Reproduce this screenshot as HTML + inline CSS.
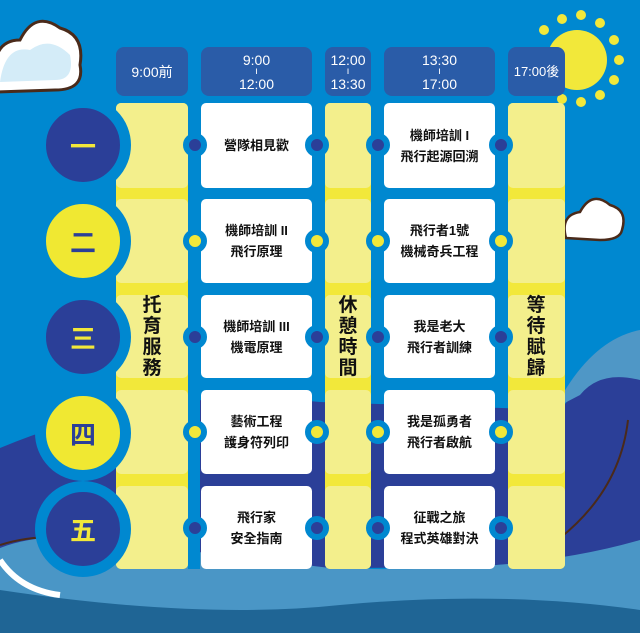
<!DOCTYPE html>
<html><head><meta charset="utf-8"><style>
body{margin:0;width:640px;height:633px;overflow:hidden;background:#0088d0;position:relative;font-family:"Liberation Sans","Noto Sans CJK TC",sans-serif}
.a{position:absolute}
.hd{position:absolute;top:47px;height:49px;background:#2a5ca8;border-radius:8px;color:#fff;font-size:14px;line-height:14px;text-align:center;display:flex;align-items:center;justify-content:center}
.hd small{font-size:10px;line-height:10px;display:block}
.y{position:absolute;background:#f3ef8c;border-radius:5px}
.w{position:absolute;background:#fff;border-radius:5px;font-size:13px;font-weight:bold;line-height:21px;text-align:center;display:flex;align-items:center;justify-content:center;color:#111}
.day{position:absolute;width:74px;height:74px;border-radius:50%;border:11px solid #0088d0;left:35px;font-size:26px;font-weight:bold;display:flex;align-items:center;justify-content:center}
.dot{position:absolute;width:12px;height:12px;border-radius:50%;border:6px solid #0088d0}
.vt{position:absolute;font-size:19px;font-weight:bold;line-height:21px;width:24px;text-align:center;color:#111}
</style></head><body>
<svg class="a" style="left:0;top:0" width="640" height="633">
<path d="M0,448 Q150,385 320,402 L560,410 Q600,360 640,372 L640,545 Q600,568 330,568 L40,560 Q20,550 0,548Z" fill="#2b3f98"/>
<path d="M555,408 Q590,340 640,330 L640,380 Q600,370 580,395 Z" fill="#4f97c6"/>
<path d="M0,548 Q40,532 100,540 L330,568 Q520,575 640,540 L640,633 L0,633Z" fill="#4a96c6"/>
<path d="M0,590 Q200,620 340,605 Q500,590 640,610 L640,633 L0,633Z" fill="#1f6595"/>
<path d="M0,545 Q40,532 90,540" stroke="#4a2a1a" stroke-width="2" fill="none"/>
<path d="M0,560 Q20,590 60,595" stroke="#fff" stroke-width="6" fill="none"/>
<path d="M560,538 Q620,490 628,420" stroke="#4a2a1a" stroke-width="2" fill="none"/>
<circle cx="577" cy="60" r="30" fill="#f2e83a"/>
<g fill="#f2e83a"><circle cx="562" cy="19" r="5"/><circle cx="581" cy="15" r="5"/><circle cx="600" cy="23" r="5"/><circle cx="614" cy="40" r="5"/><circle cx="619" cy="60" r="5"/><circle cx="614" cy="80" r="5"/><circle cx="600" cy="95" r="5"/><circle cx="581" cy="102" r="5"/><circle cx="562" cy="99" r="5"/><circle cx="544" cy="30" r="5"/></g>
<path d="M-5,85 Q-10,40 20,40 Q35,10 60,28 Q85,35 80,65 Q85,90 55,90 L-5,92Z" fill="#fff" stroke="#4a2a1a" stroke-width="3"/>
<path d="M0,82 Q5,45 30,50 Q50,35 70,55 Q75,80 55,80Z" fill="#d4ecf8"/>
<path d="M566,238 Q560,215 580,212 Q592,190 610,205 Q628,210 622,230 Q620,240 600,240Z" fill="#fff" stroke="#4a2a1a" stroke-width="2.5"/>
</svg>
<div class="a" style="left:188px;top:96px;width:12px;height:473px;background:#0088d0"></div>
<div class="hd" style="left:116px;width:72px">9:00前</div>
<div class="hd" style="left:201px;width:111px"><div>9:00<small>ı</small>12:00</div></div>
<div class="hd" style="left:325px;width:46px"><div>12:00<small>ı</small>13:30</div></div>
<div class="hd" style="left:384px;width:111px"><div>13:30<small>ı</small>17:00</div></div>
<div class="hd" style="left:508px;width:57px;font-size:13px">17:00後</div>
<div class="a" style="left:116px;top:103px;width:72px;height:466px;background:#f2e83a;border-radius:5px"></div>
<div class="a" style="left:325px;top:103px;width:46px;height:466px;background:#f2e83a;border-radius:5px"></div>
<div class="a" style="left:508px;top:103px;width:57px;height:466px;background:#f2e83a;border-radius:5px"></div>
<div class="y" style="left:116px;top:103px;width:72px;height:85px"></div><div class="y" style="left:116px;top:199px;width:72px;height:84px"></div><div class="y" style="left:116px;top:295px;width:72px;height:83px"></div><div class="y" style="left:116px;top:390px;width:72px;height:84px"></div><div class="y" style="left:116px;top:486px;width:72px;height:83px"></div>
<div class="y" style="left:325px;top:103px;width:46px;height:85px"></div><div class="y" style="left:325px;top:199px;width:46px;height:84px"></div><div class="y" style="left:325px;top:295px;width:46px;height:83px"></div><div class="y" style="left:325px;top:390px;width:46px;height:84px"></div><div class="y" style="left:325px;top:486px;width:46px;height:83px"></div>
<div class="y" style="left:508px;top:103px;width:57px;height:85px"></div><div class="y" style="left:508px;top:199px;width:57px;height:84px"></div><div class="y" style="left:508px;top:295px;width:57px;height:83px"></div><div class="y" style="left:508px;top:390px;width:57px;height:84px"></div><div class="y" style="left:508px;top:486px;width:57px;height:83px"></div>
<div class="vt" style="left:140px;top:295px">托<br>育<br>服<br>務</div>
<div class="vt" style="left:336px;top:295px">休<br>憩<br>時<br>間</div>
<div class="vt" style="left:524px;top:295px">等<br>待<br>賦<br>歸</div>
<div class="w" style="left:201px;top:103px;width:111px;height:85px">營隊相見歡</div>
<div class="w" style="left:201px;top:199px;width:111px;height:84px">機師培訓 II<br>飛行原理</div>
<div class="w" style="left:201px;top:295px;width:111px;height:83px">機師培訓 III<br>機電原理</div>
<div class="w" style="left:201px;top:390px;width:111px;height:84px">藝術工程<br>護身符列印</div>
<div class="w" style="left:201px;top:486px;width:111px;height:83px">飛行家<br>安全指南</div>
<div class="w" style="left:384px;top:103px;width:111px;height:85px">機師培訓 I<br>飛行起源回溯</div>
<div class="w" style="left:384px;top:199px;width:111px;height:84px">飛行者1號<br>機械奇兵工程</div>
<div class="w" style="left:384px;top:295px;width:111px;height:83px">我是老大<br>飛行者訓練</div>
<div class="w" style="left:384px;top:390px;width:111px;height:84px">我是孤勇者<br>飛行者啟航</div>
<div class="w" style="left:384px;top:486px;width:111px;height:83px">征戰之旅<br>程式英雄對決</div>
<div class="day" style="top:97px;background:#2b3f98;color:#f2e83a">一</div>
<div class="day" style="top:193px;background:#f0e832;color:#2b3f98">二</div>
<div class="day" style="top:289px;background:#2b3f98;color:#f2e83a">三</div>
<div class="day" style="top:385px;background:#f0e832;color:#2b3f98">四</div>
<div class="day" style="top:481px;background:#2b3f98;color:#f2e83a">五</div>
<div class="dot" style="left:183px;top:133px;background:#2b3f98"></div><div class="dot" style="left:305px;top:133px;background:#2b3f98"></div><div class="dot" style="left:366px;top:133px;background:#2b3f98"></div><div class="dot" style="left:489px;top:133px;background:#2b3f98"></div>
<div class="dot" style="left:183px;top:229px;background:#f2e83a"></div><div class="dot" style="left:305px;top:229px;background:#f2e83a"></div><div class="dot" style="left:366px;top:229px;background:#f2e83a"></div><div class="dot" style="left:489px;top:229px;background:#f2e83a"></div>
<div class="dot" style="left:183px;top:325px;background:#2b3f98"></div><div class="dot" style="left:305px;top:325px;background:#2b3f98"></div><div class="dot" style="left:366px;top:325px;background:#2b3f98"></div><div class="dot" style="left:489px;top:325px;background:#2b3f98"></div>
<div class="dot" style="left:183px;top:420px;background:#f2e83a"></div><div class="dot" style="left:305px;top:420px;background:#f2e83a"></div><div class="dot" style="left:366px;top:420px;background:#f2e83a"></div><div class="dot" style="left:489px;top:420px;background:#f2e83a"></div>
<div class="dot" style="left:183px;top:516px;background:#2b3f98"></div><div class="dot" style="left:305px;top:516px;background:#2b3f98"></div><div class="dot" style="left:366px;top:516px;background:#2b3f98"></div><div class="dot" style="left:489px;top:516px;background:#2b3f98"></div>
</body></html>
